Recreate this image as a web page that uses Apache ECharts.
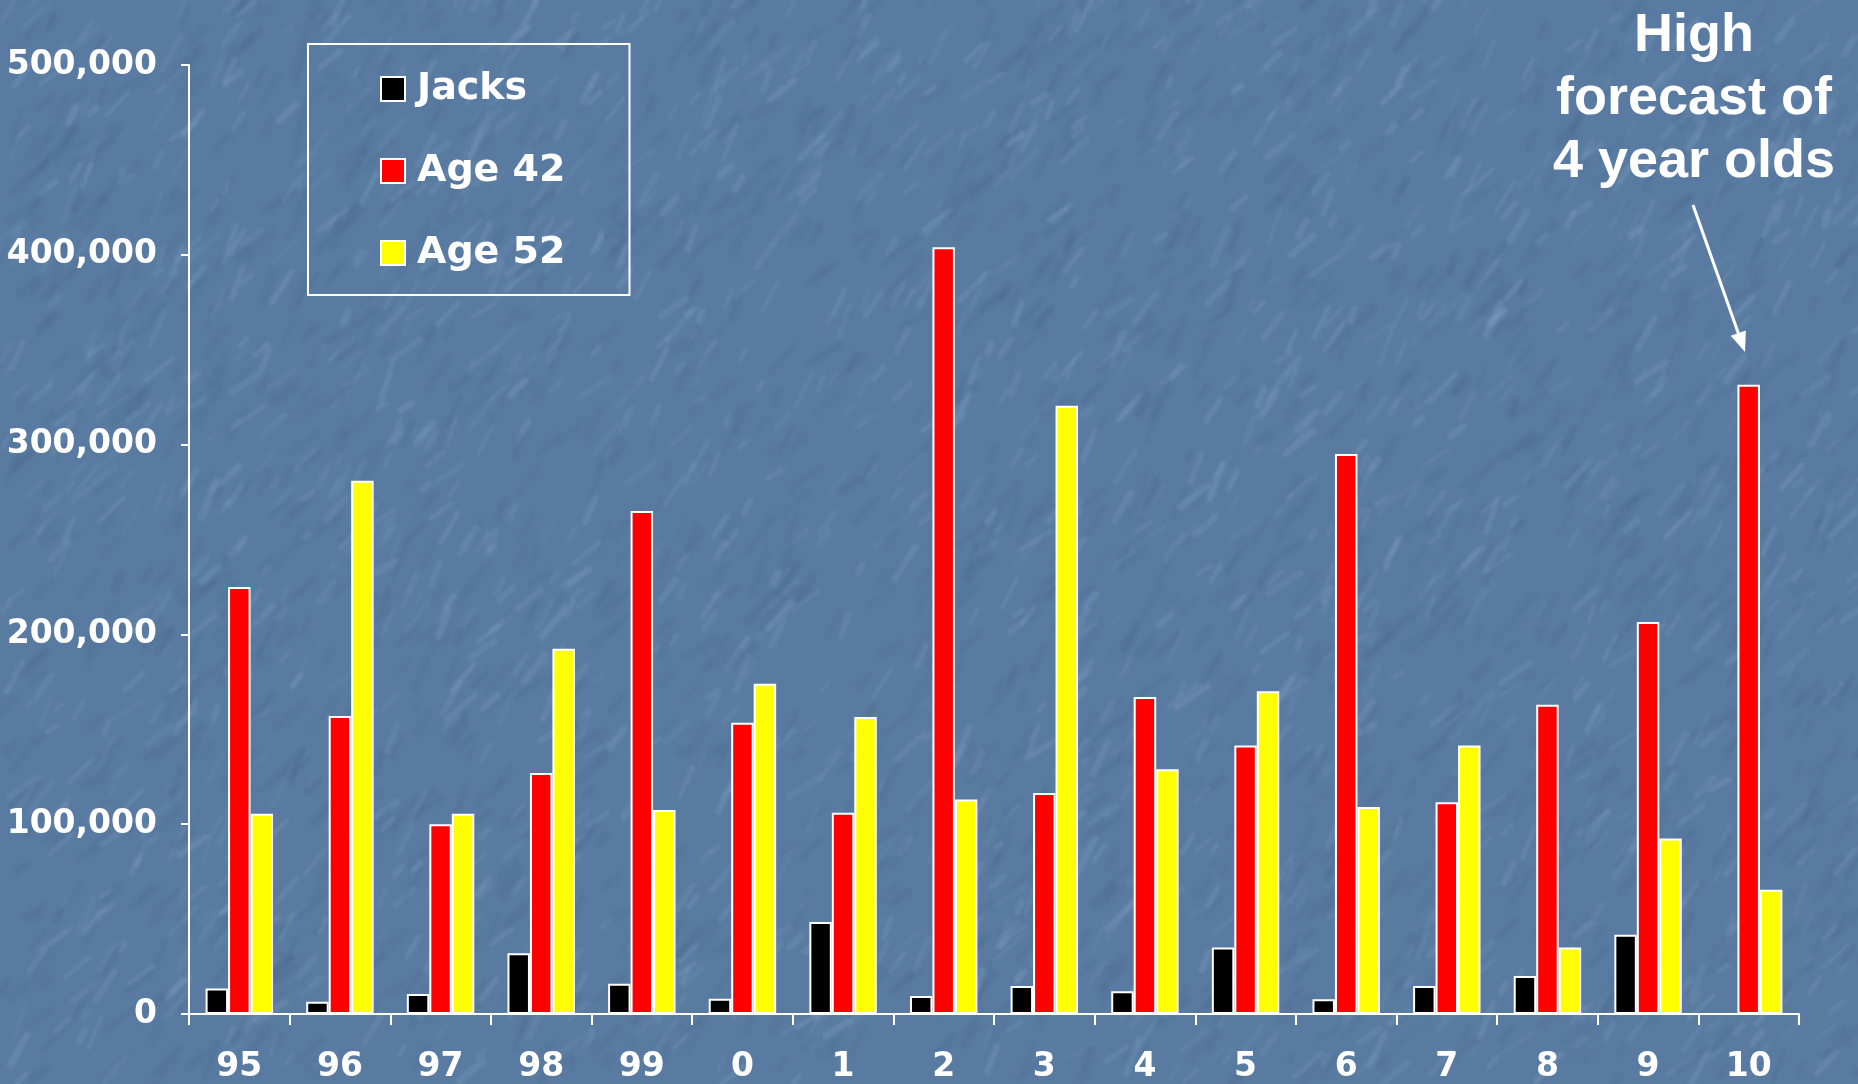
<!DOCTYPE html>
<html>
<head>
<meta charset="utf-8">
<script src="https://cdn.jsdelivr.net/npm/echarts@6.0.0/dist/echarts.min.js"></script>
<style>
  html, body { margin: 0; padding: 0; }
  #chart { width: 1858px; height: 1084px; background-color: #5a7ba1; }
</style>
<title>Jacks and adults</title>
</head>
<body>
<div id="chart"></div>
<script>
// return years and counts per age group
var years = ['95', '96', '97', '98', '99', '0', '1', '2', '3', '4', '5', '6', '7', '8', '9', '10'];
var jacks = [13500, 6500, 10500, 32000, 16000, 8000, 48500, 9500, 14800, 12000, 35000, 7800, 14700, 20000, 41700, null];
var age42 = [225000, 157000, 100000, 127000, 265000, 153500, 106000, 404000, 116500, 167000, 141500, 295000, 111500, 163000, 206500, 331500];
var age52 = [105500, 281000, 105500, 192500, 107500, 174000, 156500, 113000, 320500, 129000, 170000, 109000, 141500, 35000, 92500, 65500];
var seriesNames = ['Jacks', 'Age 42', 'Age 52'];
var note = ['High', 'forecast of', '4 year olds'];

// paper-like blue background, seeded so it is the same each time
// drawn at half size and scaled up so the streaks come out soft
function makeTexture(w, h) {
  var sw = Math.round(w / 3), sh = Math.round(h / 3);
  var s = document.createElement('canvas');
  s.width = sw; s.height = sh;
  var sc = s.getContext('2d');
  sc.fillStyle = '#5a7ba1';
  sc.fillRect(0, 0, sw, sh);
  var seed = 12345;
  function rnd() { seed = (seed * 16807) % 2147483647; return (seed - 1) / 2147483646; }
  sc.lineCap = 'round';
  for (var i = 0; i < 3500; i++) {
    var x = rnd() * sw, y = rnd() * sh;
    var len = 3 + rnd() * 10;
    var a = -0.9 + (rnd() - 0.5) * 0.7;
    var light = rnd() < 0.5;
    sc.strokeStyle = light ? 'rgba(140,172,206,' + (0.10 + rnd() * 0.16) + ')'
                           : 'rgba(66,96,134,' + (0.08 + rnd() * 0.12) + ')';
    sc.lineWidth = 1 + rnd() * 1.5;
    sc.beginPath();
    sc.moveTo(x, y);
    sc.lineTo(x + Math.cos(a) * len, y + Math.sin(a) * len);
    sc.stroke();
  }
  var c = document.createElement('canvas');
  c.width = w; c.height = h;
  var ctx = c.getContext('2d');
  ctx.imageSmoothingEnabled = true;
  ctx.drawImage(s, 0, 0, w, h);
  return c;
}

var el = document.getElementById('chart');
var myChart = echarts.init(el);
var font = 'DejaVu Sans';

function barSeries(name, data, color) {
  return {
    name: name,
    type: 'bar',
    data: data,
    barGap: '0%',
    barCategoryGap: '33%',
    itemStyle: { color: color, borderColor: '#fff', borderWidth: 2 },
    emphasis: { disabled: true }
  };
}

// arrow from the note down to the 2010 bar
var ax1 = 1693, ay1 = 205, ax2 = 1745, ay2 = 352;
var dl = Math.sqrt((ax2 - ax1) * (ax2 - ax1) + (ay2 - ay1) * (ay2 - ay1));
var ux = (ax2 - ax1) / dl, uy = (ay2 - ay1) / dl;
var bx = ax2 - ux * 20, by = ay2 - uy * 20;

var option = {
  animation: false,
  backgroundColor: { image: makeTexture(1858, 1084), repeat: 'no-repeat' },
  grid: { left: 189, right: 59, top: 65, bottom: 70 },
  legend: {
    data: seriesNames,
    orient: 'vertical',
    left: 308,
    top: 44,
    padding: [25, 64, 22, 72],
    itemGap: 42,
    itemWidth: 24,
    itemHeight: 24,
    icon: 'rect',
    selectedMode: false,
    borderColor: '#fff',
    borderWidth: 2,
    textStyle: { color: '#fff', fontSize: 38, fontWeight: 'bold', fontFamily: font, lineHeight: 40, padding: [0, 0, 0, 7] }
  },
  xAxis: {
    type: 'category',
    data: years,
    axisLine: { lineStyle: { color: '#fff', width: 2 } },
    axisTick: { show: true, length: 11, interval: 0, lineStyle: { color: '#fff', width: 2 } },
    axisLabel: { color: '#fff', fontSize: 33, fontWeight: 'bold', fontFamily: font, margin: 53, verticalAlign: 'middle', interval: 0 }
  },
  yAxis: {
    type: 'value',
    min: 0,
    max: 500000,
    interval: 100000,
    splitLine: { show: false },
    axisLine: { show: true, lineStyle: { color: '#fff', width: 2 } },
    axisTick: { show: true, length: 8, lineStyle: { color: '#fff', width: 2 } },
    axisLabel: {
      color: '#fff', fontSize: 33, fontWeight: 'bold', fontFamily: font, margin: 32,
      formatter: function (v) { return v.toLocaleString('en-US'); }
    }
  },
  series: [
    barSeries(seriesNames[0], jacks, '#000000'),
    barSeries(seriesNames[1], age42, '#ff0000'),
    barSeries(seriesNames[2], age52, '#ffff00')
  ],
  graphic: [
    {
      type: 'text',
      x: 1694,
      y: 5,
      style: {
        text: note.join('\n'),
        fill: '#fff',
        fontSize: 54,
        fontWeight: 'bold',
        fontFamily: 'Liberation Sans',
        lineHeight: 63,
        align: 'center',
        verticalAlign: 'top'
      }
    },
    {
      type: 'line',
      shape: { x1: ax1, y1: ay1, x2: bx, y2: by },
      style: { stroke: '#fff', lineWidth: 3 }
    },
    {
      type: 'polygon',
      shape: { points: [[ax2, ay2], [bx - uy * 8, by + ux * 8], [bx + uy * 8, by - ux * 8]] },
      style: { fill: '#fff' }
    }
  ]
};

myChart.setOption(option);
</script>
</body>
</html>
